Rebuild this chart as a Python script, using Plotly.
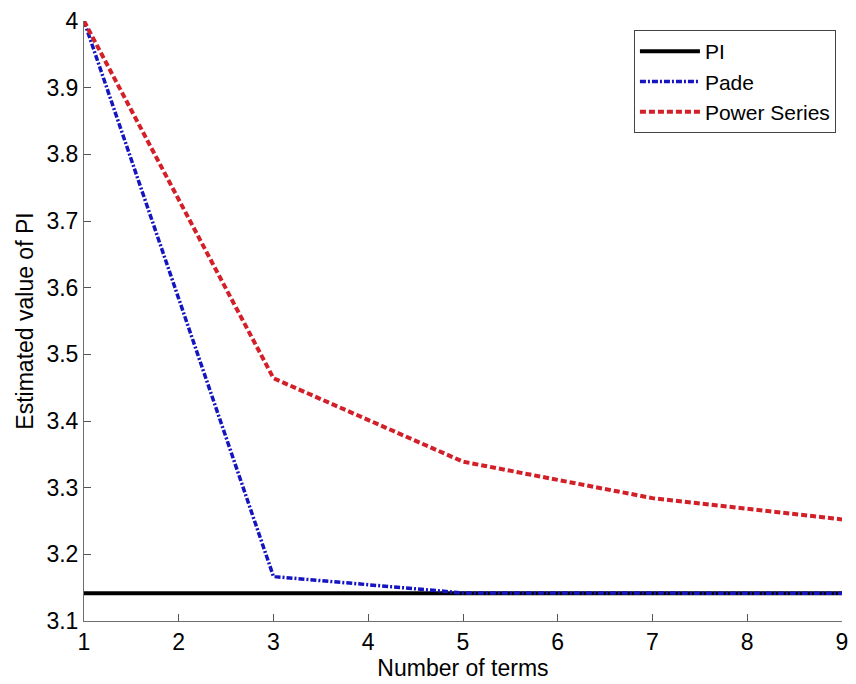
import plotly.graph_objects as go
import math

x_terms = [1, 3, 5, 7, 9]
pi_value = [math.pi] * 5
pade = [4.0, 3.1667, 3.1421, 3.1416, 3.1416]
power_series = [4.0, 3.4641, 3.3390, 3.2843, 3.2524]

x_ticks = [1, 2, 3, 4, 5, 6, 7, 8, 9]
y_ticks = [3.1, 3.2, 3.3, 3.4, 3.5, 3.6, 3.7, 3.8, 3.9, 4.0]
y_tick_text = ["3.1", "3.2", "3.3", "3.4", "3.5", "3.6", "3.7", "3.8", "3.9", "4"]

FONT = "Liberation Sans, Arial, sans-serif"

fig = go.Figure()
fig.add_trace(go.Scatter(x=x_terms, y=pi_value, mode="lines", name="PI",
                         line=dict(color="black", width=4)))
fig.add_trace(go.Scatter(x=x_terms, y=pade, mode="lines", name="Pade",
                         line=dict(color="#1515c0", width=3.5, dash="6px,2px,2px,2px")))
fig.add_trace(go.Scatter(x=x_terms, y=power_series, mode="lines", name="Power Series",
                         line=dict(color="#d21f28", width=4, dash="6px,3px")))

axis_common = dict(
    showgrid=False, zeroline=False, showline=True, linecolor="#6e6e6e", linewidth=1,
    ticks="inside", ticklen=7, tickcolor="#555555", tickwidth=1,
    tickfont=dict(family=FONT, size=23, color="black"), mirror=False,
)

fig.update_layout(
    width=856, height=684,
    margin=dict(l=84, r=8, t=19, b=63),
    paper_bgcolor="white", plot_bgcolor="white",
    font=dict(family=FONT, color="black"),
    xaxis=dict(range=[1, 9], tickvals=x_ticks,
               title=dict(text="Number of terms", font=dict(family=FONT, size=23), standoff=0),
               **axis_common),
    yaxis=dict(range=[3.1, 4.0], tickvals=y_ticks, ticktext=y_tick_text,
               title=dict(text="Estimated value of PI", font=dict(family=FONT, size=23), standoff=6),
               **axis_common),
    legend=dict(x=0.992, y=0.985, xanchor="right", yanchor="top",
                bgcolor="white", bordercolor="#444444", borderwidth=1,
                font=dict(family=FONT, size=21), tracegroupgap=0, itemwidth=60),
    showlegend=True,
)

fig.write_html("out.html")
